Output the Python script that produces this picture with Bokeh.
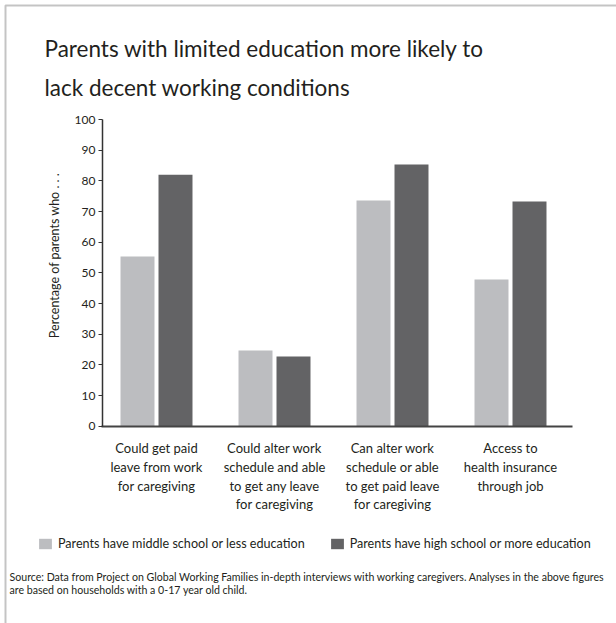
from math import pi
from bokeh.plotting import figure
from bokeh.models import (Range1d, FixedTicker, Label, BoxAnnotation, Legend, LegendItem,
                          ColumnDataSource, LinearAxis)
from bokeh.embed import file_html
from bokeh.resources import INLINE

# ---- data ----
categories = [
    "Could get paid\nleave from work\nfor caregiving",
    "Could alter work\nschedule and able\nto get any leave\nfor caregiving",
    "Can alter work\nschedule or able\nto get paid leave\nfor caregiving",
    "Access to\nhealth insurance\nthrough job",
]
middle_or_less = [55.3, 24.7, 73.6, 47.8]
high_or_more = [82.0, 22.7, 85.3, 73.3]
series_names = ["Parents have middle school or less education",
                "Parents have high school or more education"]
y_ticks = [0, 10, 20, 30, 40, 50, 60, 70, 80, 90, 100]
title_lines = ["Parents with limited education more likely to",
               "lack decent working conditions"]
y_title = "Percentage of parents who . . ."
source_lines = [
    "Source: Data from Project on Global Working Families in-depth interviews with working caregivers. Analyses in the above figures",
    "are based on households with a 0-17 year  old child.",
]

LIGHT = "#bcbdc0"
DARK = "#636365"
TXT = "#231f20"
FONT = "Lato"

W, H = 616, 623
# pixel geometry of the chart area (canvas px, top-left origin)
PX_C0, PX_STEP = 156.0, 118.0      # centre of first group, spacing of groups
PY_0, PY_PER = 425.7, 3.067        # y pixel of value 0, px per unit


def xv(px):   # canvas px -> category units
    return (px - PX_C0) / PX_STEP


def yv(py):   # canvas px -> value units
    return (PY_0 - py) / PY_PER


xs = list(range(len(categories)))
src = ColumnDataSource(dict(
    x_light=[x - 0.161 for x in xs],
    x_dark=[x + 0.161 for x in xs],
    light=middle_or_less,
    dark=high_or_more,
))

p = figure(width=W, height=H, output_backend="svg", toolbar_location=None,
           x_range=Range1d(xv(0), xv(W)), y_range=Range1d(yv(H), yv(0)),
           x_axis_location=None, y_axis_location=None,
           min_border=0, min_border_left=0, min_border_right=0,
           min_border_top=0, min_border_bottom=0)
p.outline_line_color = None
p.xgrid.visible = False
p.ygrid.visible = False
p.background_fill_color = "white"
p.border_fill_color = "white"

r1 = p.vbar(x="x_light", top="light", width=0.288, source=src, fill_color=LIGHT, line_color=None)
r2 = p.vbar(x="x_dark", top="dark", width=0.288, source=src, fill_color=DARK, line_color=None)

# y axis, fixed at left edge of the chart area
ya = LinearAxis(fixed_location=xv(102), bounds=(0, 100))
ya.ticker = FixedTicker(ticks=y_ticks)
ya.minor_tick_line_color = None
ya.major_tick_in = 0
ya.major_tick_out = 4
ya.axis_line_color = "#333333"
ya.axis_line_width = 1.5
ya.major_tick_line_color = "#333333"
ya.major_label_text_font = FONT
ya.major_label_text_font_size = "12px"
ya.major_label_text_color = TXT
ya.major_label_standoff = 3
p.add_layout(ya, "left")

# x axis (baseline) with category labels
xa = LinearAxis(fixed_location=0, bounds=(xv(101), xv(572)))
xa.ticker = FixedTicker(ticks=xs)
xa.major_label_overrides = {i: c for i, c in zip(xs, categories)}
xa.major_tick_line_color = None
xa.minor_tick_line_color = None
xa.axis_line_color = "#444444"
xa.axis_line_width = 2
xa.major_label_text_font = FONT
xa.major_label_text_font_size = "13px"
xa.major_label_text_color = TXT
xa.major_label_text_line_height = 1.17
xa.major_label_standoff = 8
p.add_layout(xa, "below")

# y-axis title (rotated)
p.add_layout(Label(x=54, y=H - 255, x_units="screen", y_units="screen", angle=pi / 2,
                   text=y_title, text_font=FONT, text_font_size="12.5px", text_color=TXT,
                   text_align="center", text_baseline="middle"))

# title
for i, t in enumerate(title_lines):
    p.add_layout(Label(x=44, y=H - (48 + 39 * i), x_units="screen", y_units="screen",
                       text=t, text_font=FONT, text_font_size="22.5px", text_color=TXT,
                       text_baseline="alphabetic"))

# source
for i, t in enumerate(source_lines):
    p.add_layout(Label(x=9, y=H - (576 + 13 * i), x_units="screen", y_units="screen",
                       text=t, text_font=FONT, text_font_size="10.6px", text_color=TXT,
                       text_baseline="middle"))

# legend
legend = Legend(items=[LegendItem(label=series_names[0], renderers=[r1]),
                       LegendItem(label=series_names[1], renderers=[r2])],
                orientation="horizontal", location=(37, H - 551),
                glyph_width=16, glyph_height=13, label_height=13, label_width=10,
                label_text_font=FONT, label_text_font_size="12.6px", label_text_color=TXT,
                label_text_baseline="middle",
                spacing=24, label_standoff=5, padding=0, margin=0,
                border_line_color=None, background_fill_alpha=0)
p.add_layout(legend, "center")

# page border (top and left only)
p.add_layout(BoxAnnotation(left=xv(5), right=xv(W + 40), top=yv(5), bottom=yv(H + 40),
                           fill_color=None, line_color="#3c3c3c", line_width=2))

open("out.html", "w").write(file_html(p, INLINE))
